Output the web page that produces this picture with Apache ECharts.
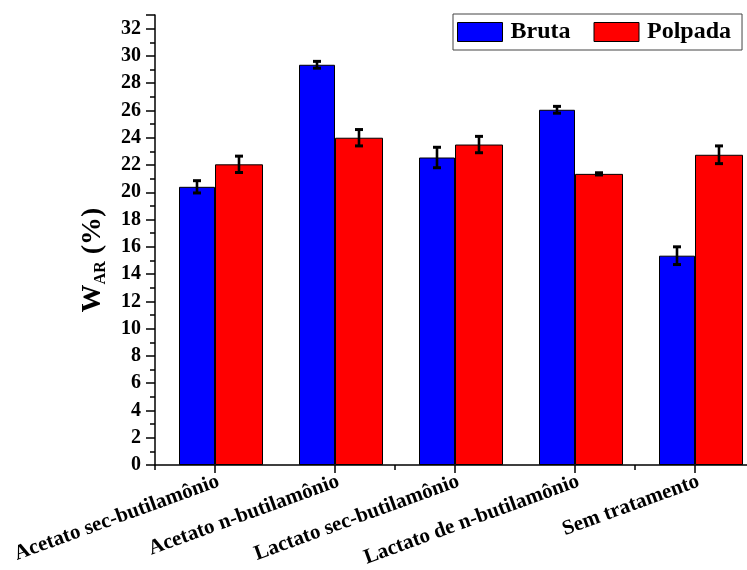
<!DOCTYPE html>
<html>
<head>
<meta charset="utf-8">
<script src="https://cdn.jsdelivr.net/npm/echarts@6/dist/echarts.min.js"></script>
<style>html,body{margin:0;padding:0;background:#fff;overflow:hidden;width:747px;height:570px}#c{width:755px;height:570px}</style>
</head>
<body>
<div id="c"></div>
<script>
const categories = ['Acetato sec-butilamônio', 'Acetato n-butilamônio', 'Lactato sec-butilamônio', 'Lactato de n-butilamônio', 'Sem tratamento'];
const brutaValues = [20.4, 29.35, 22.55, 26.05, 15.35];
const brutaErrors = [0.45, 0.25, 0.75, 0.25, 0.65];
const polpadaValues = [22.05, 24.0, 23.5, 21.35, 22.75];
const polpadaErrors = [0.6, 0.6, 0.6, 0.08, 0.65];
const yTicks = { min: 0, max: 33, interval: 2 };

const FONT = '"Liberation Serif", "Times New Roman", serif';

function errData(vals, errs) {
  return vals.map((v, i) => [i, v, errs[i]]);
}
function errSeries(vals, errs, off) {
  return {
    type: 'custom',
    xAxisIndex: 0,
    yAxisIndex: 0,
    z: 10,
    silent: true,
    encode: { x: 0, y: 1 },
    data: errData(vals, errs),
    renderItem: function (params, api) {
      const i = api.value(0), v = api.value(1), e = api.value(2);
      const band = api.size([1, 0])[0];
      const x = api.coord([i, v])[0] + off * band;
      const yt = api.coord([i, v + e])[1];
      const yb = api.coord([i, v - e])[1];
      const hw = 4;
      return {
        type: 'group',
        children: [
          { type: 'line', shape: { x1: x, y1: yt, x2: x, y2: yb }, style: { stroke: '#000', lineWidth: 2.6 } },
          { type: 'line', shape: { x1: x - hw, y1: yt, x2: x + hw, y2: yt }, style: { stroke: '#000', lineWidth: 3 } },
          { type: 'line', shape: { x1: x - hw, y1: yb, x2: x + hw, y2: yb }, style: { stroke: '#000', lineWidth: 3 } }
        ]
      };
    }
  };
}

const chart = echarts.init(document.getElementById('c'), null, { renderer: 'canvas', width: 755, height: 570 });
chart.setOption({
  animation: false,
  backgroundColor: '#fff',
  textStyle: { fontFamily: FONT },
  grid: { left: 155, top: 15, right: 0, bottom: 105, containLabel: false },
  legend: {
    data: ['Bruta', 'Polpada'],
    left: 453, top: 14,
    padding: [6, 11, 6, 4],
    itemGap: 23,
    itemWidth: 45, itemHeight: 19,
    icon: 'rect',
    borderColor: '#444', borderWidth: 1,
    textStyle: { fontFamily: FONT, fontWeight: 'bold', fontSize: 24, color: '#000', padding: [0, 0, 0, 3] },
    itemStyle: { borderColor: '#000', borderWidth: 1 }
  },
  xAxis: [
    {
      type: 'category', data: categories, position: 'bottom',
      axisLine: { lineStyle: { color: '#000', width: 1.5 } },
      axisTick: { show: true, alignWithLabel: false, length: 5, lineStyle: { color: '#000', width: 1.5 } },
      axisLabel: { show: false }
    },
    {
      type: 'category', data: categories, position: 'bottom', gridIndex: 0,
      axisLine: { show: false },
      axisTick: { show: true, alignWithLabel: true, length: 8, lineStyle: { color: '#000', width: 1.5 } },
      axisLabel: { show: true, interval: 0, rotate: 20, margin: 6, verticalAlign: 'top', fontFamily: FONT, fontWeight: 'bold', fontSize: 21, color: '#000' }
    }
  ],
  yAxis: {
    type: 'value', min: yTicks.min, max: yTicks.max, interval: yTicks.interval,
    name: '{w|W}{s|AR}{w| (%)}',
    nameLocation: 'middle', nameGap: 46, nameRotate: 90,
    nameTextStyle: {
      padding: [0, 40, 0, 0],
      rich: {
        w: { fontFamily: FONT, fontWeight: 'bold', fontSize: 28, color: '#000', lineHeight: 32, verticalAlign: 'middle' },
        s: { fontFamily: FONT, fontWeight: 'bold', fontSize: 16, color: '#000', lineHeight: 15, verticalAlign: 'bottom' }
      }
    },
    axisLine: { show: true, lineStyle: { color: '#000', width: 1.5 } },
    axisTick: { show: true, length: 9, lineStyle: { color: '#000', width: 1.5 } },
    minorTick: { show: true, splitNumber: 2, length: 5, lineStyle: { color: '#000', width: 1.5 } },
    splitLine: { show: false },
    minorSplitLine: { show: false },
    axisLabel: { showMaxLabel: false, margin: 14, fontFamily: FONT, fontWeight: 'bold', fontSize: 20, color: '#000' }
  },
  series: [
    { name: 'spacer', type: 'bar', barWidth: '10%', barGap: '0%', data: categories.map(() => null), silent: true, itemStyle: { color: 'transparent' } },
    { name: 'Bruta', type: 'bar', barWidth: '30%', barGap: '0%', data: brutaValues,
      itemStyle: { color: '#0000ff', borderColor: '#000', borderWidth: 1 } },
    { name: 'Polpada', type: 'bar', barWidth: '40%', barGap: '0%', data: polpadaValues,
      itemStyle: { color: '#ff0000', borderColor: '#000', borderWidth: 1 } },
    errSeries(brutaValues, brutaErrors, -0.15),
    errSeries(polpadaValues, polpadaErrors, 0.2)
  ]
});
</script>
</body>
</html>
